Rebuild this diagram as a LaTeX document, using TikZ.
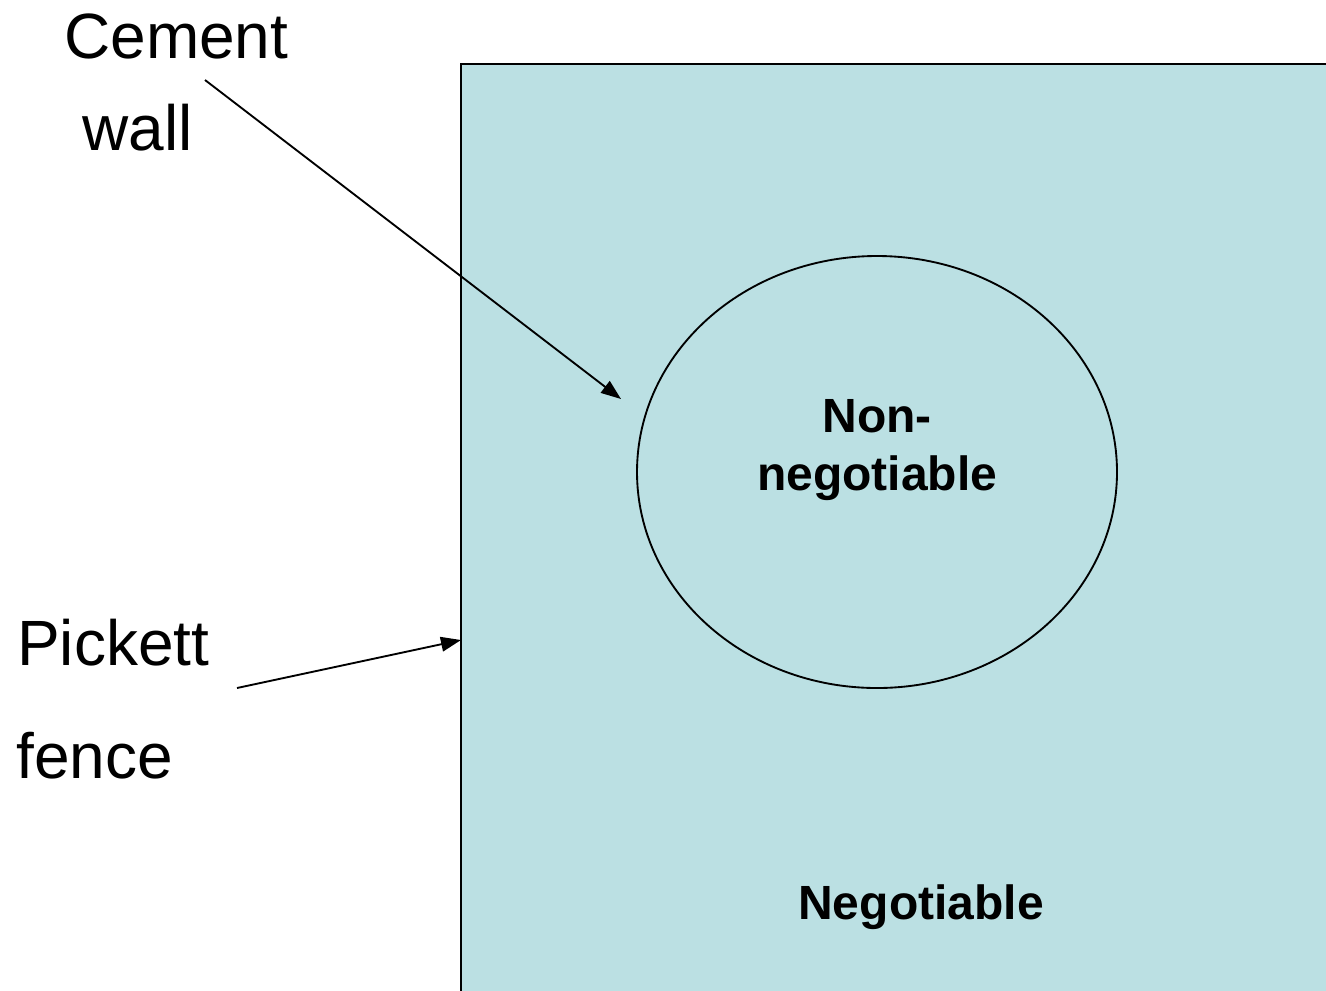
\documentclass[tikz,border=0pt]{standalone}
\usepackage{fontspec}
\setmainfont{Liberation Sans}
\usetikzlibrary{arrows.meta,shapes.geometric}

\tikzset{
  label/.style={anchor=base west, inner sep=0pt, font=\fontsize{48}{58}\selectfont},
  zone/.style={inner sep=0pt, font=\bfseries\fontsize{36}{43}\selectfont, align=center},
  pointer/.style={line width=1.4pt, -{Triangle[length=15pt, width=11pt]}}
}

\begin{document}
\begin{tikzpicture}[x=0.75pt, y=-0.75pt]
\useasboundingbox (0,0) rectangle (1326,990);
\clip (0,0) rectangle (1326,990);

% negotiable area
\fill[fill={rgb,255:red,187;green,224;blue,227}] (461,64) rectangle (1340,1000);
\draw[line width=2pt] (461,1000) -- (461,64) -- (1340,64);

% non-negotiable core
\node[draw, ellipse, line width=1.4pt, minimum width=360pt, minimum height=324pt] (core) at (877,472) {};
\node[zone, anchor=base] (nonneg) at (877,490) {Non-\\negotiable};
\node[zone, anchor=base] (neg) at (921,919) {Negotiable};

% labels on the left
\node[label] (cement) at (64,58) {Cement};
\node[label] (wall) at (82,150) {wall};
\node[label] (pickett) at (17,665) {Pickett};
\node[label] (fence) at (16,778) {fence};

\coordinate (wallstart) at (205,80);
\coordinate (wallend) at (621,399);
\coordinate (fencestart) at (237,688);
\coordinate (fenceend) at (461,640);

\draw[pointer] (wallstart) -- (wallend);
\draw[pointer] (fencestart) -- (fenceend);

\end{tikzpicture}
\end{document}
